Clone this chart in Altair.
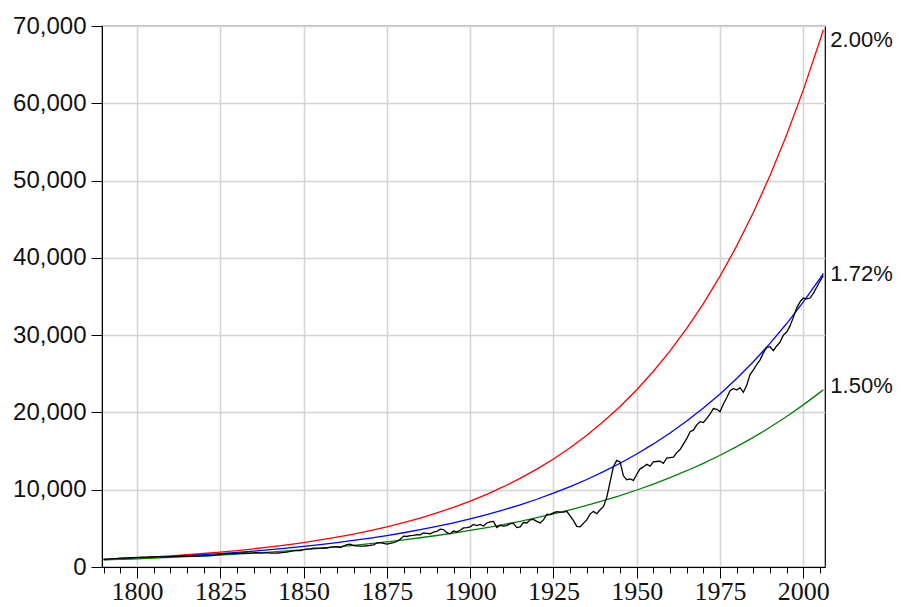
import altair as alt
import pandas as pd

# ---- data ----
trend_years = [1790, 1795, 1800, 1805, 1810, 1815, 1820, 1825, 1830, 1835,
               1840, 1845, 1850, 1855, 1860, 1865, 1870, 1875, 1880, 1885,
               1890, 1895, 1900, 1905, 1910, 1915, 1920, 1925, 1930, 1935,
               1940, 1945, 1950, 1955, 1960, 1965, 1970, 1975, 1980, 1985,
               1990, 1995, 2000, 2005, 2006]

trend_200 = [965, 1065, 1176, 1299, 1434, 1583, 1748, 1930, 2131, 2352,
             2597, 2868, 3166, 3496, 3859, 4261, 4705, 5194, 5735, 6332,
             6991, 7718, 8522, 9409, 10388, 11469, 12663, 13981, 15436, 17042,
             18816, 20774, 22937, 25324, 27960, 30870, 34082, 37630, 41546, 45870,
             50645, 55916, 61735, 68161, 69524]

trend_172 = [955, 1040, 1133, 1233, 1343, 1463, 1593, 1735, 1889, 2057,
             2241, 2440, 2657, 2894, 3151, 3432, 3737, 4070, 4432, 4826,
             5256, 5724, 6233, 6788, 7392, 8050, 8767, 9547, 10397, 11323,
             12331, 13428, 14624, 15925, 17343, 18887, 20568, 22398, 24392, 26563,
             28928, 31503, 34307, 37360, 38003]

trend_150 = [920, 991, 1068, 1150, 1239, 1335, 1438, 1549, 1669, 1798,
             1937, 2087, 2248, 2422, 2609, 2810, 3028, 3262, 3514, 3785,
             4078, 4393, 4733, 5098, 5492, 5917, 6374, 6867, 7398, 7969,
             8585, 9249, 9963, 10733, 11563, 12457, 13419, 14457, 15574, 16777,
             18074, 19471, 20976, 22597, 22936]

actual_years = list(range(1790, 2007))
actual = [
    1000, 1030, 1060, 1080, 1110, 1150, 1170, 1180, 1200, 1220,      # 1790s
    1240, 1260, 1290, 1280, 1300, 1320, 1340, 1330, 1270, 1310,      # 1800s
    1340, 1360, 1380, 1390, 1400, 1390, 1380, 1400, 1420, 1410,      # 1810s
    1430, 1450, 1480, 1520, 1560, 1620, 1680, 1720, 1730, 1720,      # 1820s
    1760, 1790, 1810, 1830, 1800, 1840, 1850, 1800, 1820, 1850,      # 1830s
    1790, 1800, 1810, 1840, 1900, 1940, 2010, 2090, 2110, 2120,      # 1840s
    2260, 2310, 2350, 2440, 2450, 2440, 2480, 2460, 2560, 2600,      # 1850s
    2620, 2500, 2700, 2900, 2950, 2780, 2740, 2690, 2700, 2750,      # 1860s
    2800, 2860, 3100, 3150, 3050, 2950, 3050, 3150, 3300, 3600,      # 1870s
    4000, 3950, 4050, 4100, 4200, 4150, 4400, 4350, 4300, 4500,      # 1880s
    4600, 4900, 4850, 4450, 4300, 4650, 4550, 4750, 5050, 5100,      # 1890s
    5200, 5500, 5350, 5500, 5300, 5700, 5850, 5900, 5100, 5400,      # 1900s
    5300, 5350, 5600, 5650, 5100, 5200, 5750, 5700, 6100, 6150,      # 1910s
    5900, 5700, 6100, 6800, 6800, 7000, 7150, 7100, 7100, 7200,      # 1920s
    6600, 6000, 5250, 5200, 5650, 6100, 6850, 7200, 6900, 7400,      # 1930s
    7800, 9000, 11000, 13000, 13800, 13600, 11800, 11300, 11400, 11200,  # 1940s
    12000, 12700, 12950, 13300, 13050, 13600, 13650, 13700, 13400, 14100,  # 1950s
    14150, 14200, 14800, 15200, 15900, 16600, 17500, 17700, 18400, 18800,  # 1960s
    18700, 19200, 19800, 20500, 20400, 20100, 21100, 21900, 22800, 23100,  # 1970s
    22900, 23200, 22600, 23500, 24900, 25500, 26200, 26800, 27700, 28400,  # 1980s
    28500, 28000, 28600, 29100, 30000, 30400, 31200, 32300, 33500, 34300,  # 1990s
    34800, 34700, 34800, 35400, 36200, 37000, 37700,                      # 2000s
]

series_names = ["2.00%", "1.72%", "1.50%", "Actual"]
series_colors = ["#ff0000", "#0000ff", "#008000", "#000000"]

label_text = ["2.00%", "1.72%", "1.50%"]
label_year = [2006, 2006, 2006]
label_value = [68150, 37950, 23450]

major_ticks = list(range(1800, 2001, 25))
minor_ticks = list(range(1790, 2006, 5))
y_ticks = list(range(0, 70001, 10000))

# ---- tables ----
rows = []
for name, vals in zip(series_names[:3], [trend_200, trend_172, trend_150]):
    for yr, v in zip(trend_years, vals):
        rows.append({"year": yr, "value": v, "series": name})
trend_df = pd.DataFrame(rows)
actual_df = pd.DataFrame({"year": actual_years, "value": actual, "series": "Actual"})
label_df = pd.DataFrame({"year": label_year, "value": label_value, "label": label_text})

FONT = "Liberation Sans"
xscale = alt.Scale(domain=[1789.5, 2006.5], nice=False, zero=False)
yscale = alt.Scale(domain=[0, 70000], nice=False, zero=True)
cscale = alt.Scale(domain=series_names, range=series_colors)

yaxis = alt.Axis(values=y_ticks, format=",d", title=None, grid=True,
                 gridColor="#d4d4d4", gridWidth=1.5, tickSize=11,
                 tickColor="#000000", domainColor="#000000", labelPadding=5,
                 labelFont=FONT, labelFontSize=24, labelColor="#111111")

trends = alt.Chart(trend_df).mark_line(strokeWidth=1.3, clip=True).encode(
    x=alt.X("year:Q", scale=xscale, axis=alt.Axis(
        values=major_ticks, format="d", title=None, orient="bottom", grid=True,
        gridColor="#d4d4d4", gridWidth=1.5, tickSize=11, tickColor="#000000",
        domainColor="#000000", labelPadding=21, labelBaseline="alphabetic",
        labelFont="Liberation Sans Narrow",
        labelFontSize=26, labelColor="#111111", labelFlush=False)),
    y=alt.Y("value:Q", scale=yscale, axis=yaxis),
    color=alt.Color("series:N", scale=cscale, legend=None),
    detail="series:N",
)

actual_line = alt.Chart(actual_df).mark_line(strokeWidth=1.3, clip=True).encode(
    x=alt.X("year:Q", scale=xscale, axis=alt.Axis(
        values=minor_ticks, title=None, orient="bottom", grid=False, labels=False,
        domain=False, tickSize=6, tickColor="#000000")),
    y=alt.Y("value:Q", scale=yscale, axis=yaxis),
    color=alt.Color("series:N", scale=cscale, legend=None),
)

labels = alt.Chart(label_df).mark_text(
    align="left", baseline="middle", dx=7, font=FONT, fontSize=22, color="#111111"
).encode(
    x=alt.X("year:Q", scale=xscale, axis=None),
    y=alt.Y("value:Q", scale=yscale, axis=yaxis),
    text="label:N",
)

chart = alt.layer(trends, actual_line, labels).resolve_axis(x="independent").properties(
    width=723, height=541,
    autosize=alt.AutoSizeParams(type="none"),
    padding={"left": 94, "top": 18, "right": 68, "bottom": 40},
    background="white",
).configure_view(stroke="#000000", strokeWidth=1.2)

chart.save("out.html", embed_options={"renderer": "svg", "actions": False})
